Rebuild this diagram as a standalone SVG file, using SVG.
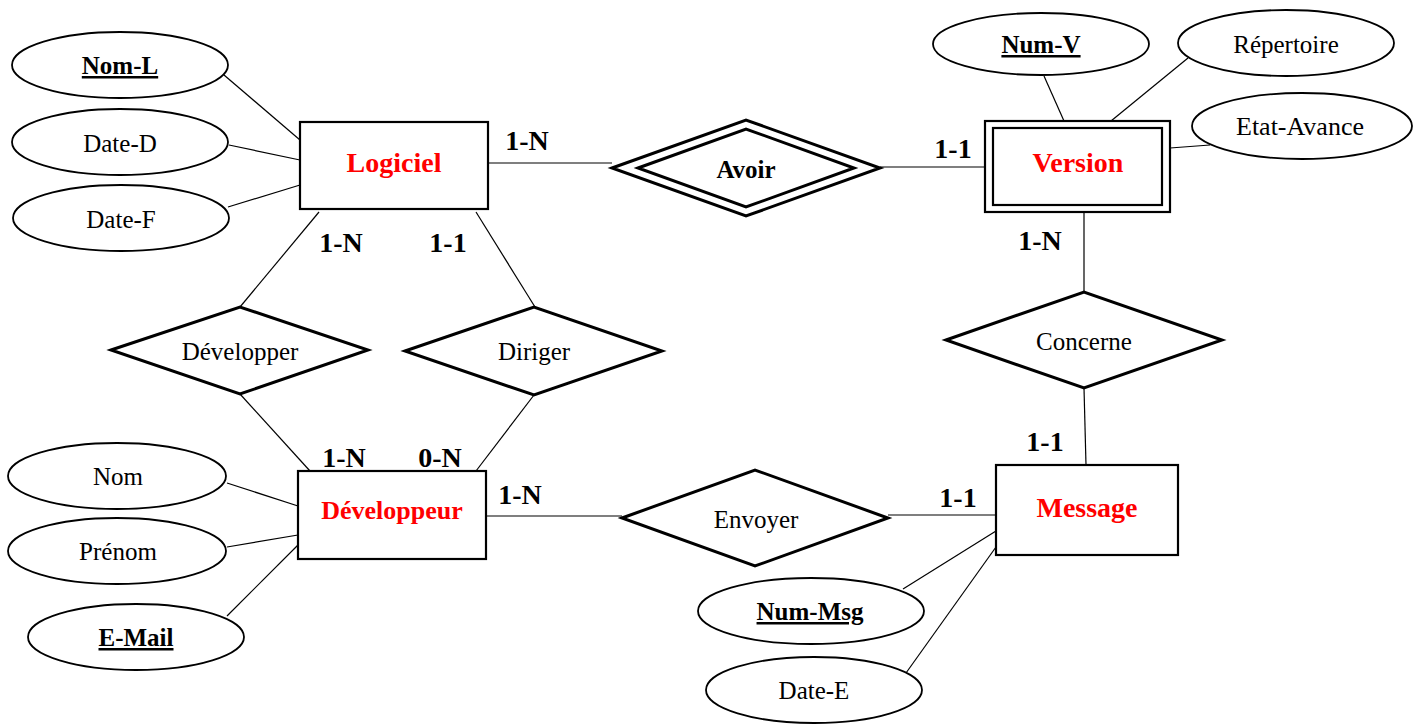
<svg xmlns="http://www.w3.org/2000/svg" width="1422" height="726" viewBox="0 0 1422 726">
<style>
text{font-family:"Liberation Serif","Times New Roman",serif;text-anchor:middle;fill:#000}
.attr{font-size:25px}
.key{font-size:25px;font-weight:bold;text-decoration:underline}
.ent{font-size:28px;font-weight:bold;fill:#ff0000}
.card{font-size:28px;font-weight:bold}
.rel{font-size:25px}
.ell{fill:#fff;stroke:#000;stroke-width:1.8}
.box{fill:#fff;stroke:#000;stroke-width:2.2}
.dia{fill:#fff;stroke:#000;stroke-width:3}
.conn line{stroke:#000;stroke-width:1.2}
</style>
<rect width="1422" height="726" fill="#fff"/>
<g class="conn">
<line x1="224" y1="75" x2="300" y2="140"/>
<line x1="229" y1="145" x2="300" y2="160"/>
<line x1="228" y1="207" x2="300" y2="185"/>
<line x1="488" y1="163" x2="612" y2="163"/>
<line x1="880" y1="167" x2="985" y2="167"/>
<line x1="1044" y1="76" x2="1064" y2="121"/>
<line x1="1188" y1="58" x2="1111" y2="121"/>
<line x1="1210" y1="145" x2="1170" y2="148"/>
<line x1="1084" y1="212" x2="1084" y2="292"/>
<line x1="1084" y1="388" x2="1086" y2="465"/>
<line x1="319" y1="212" x2="240" y2="307"/>
<line x1="476" y1="212" x2="535" y2="307"/>
<line x1="240" y1="394" x2="310" y2="471"/>
<line x1="534" y1="395" x2="476" y2="471"/>
<line x1="486" y1="516" x2="622" y2="516"/>
<line x1="888" y1="515" x2="996" y2="515"/>
<line x1="227" y1="483" x2="298" y2="506"/>
<line x1="227" y1="547" x2="298" y2="535"/>
<line x1="227" y1="616" x2="298" y2="545"/>
<line x1="903" y1="589" x2="996" y2="531"/>
<line x1="906" y1="673" x2="996" y2="547"/>
</g>
<g id="nom-l"><ellipse class="ell" cx="120" cy="65" rx="108" ry="33"/><text class="key" x="120" y="74">Nom-L</text></g>
<g id="date-d"><ellipse class="ell" cx="120" cy="142" rx="108" ry="33"/><text class="attr" x="120" y="152">Date-D</text></g>
<g id="date-f"><ellipse class="ell" cx="121" cy="218" rx="108" ry="33"/><text class="attr" x="121" y="228">Date-F</text></g>
<g id="logiciel"><rect class="box" x="300" y="122" width="188" height="87"/><text class="ent" x="394" y="172">Logiciel</text></g>
<g id="avoir"><polygon class="dia" points="612,168 746,120 880,168 746,216"/><polygon class="dia" points="638,168 746,129 854,168 746,207"/><text class="rel" x="746" y="178" style="font-weight:bold">Avoir</text></g>
<g id="version"><rect class="box" x="985" y="121" width="185" height="91"/><rect class="box" x="993" y="128" width="169" height="77"/><text class="ent" x="1078" y="172">Version</text></g>
<g id="num-v"><ellipse class="ell" cx="1041" cy="44" rx="108" ry="31"/><text class="key" x="1041" y="53">Num-V</text></g>
<g id="repertoire"><ellipse class="ell" cx="1286" cy="43" rx="108" ry="33"/><text class="attr" x="1286" y="53">Répertoire</text></g>
<g id="etat-avance"><ellipse class="ell" cx="1302" cy="126" rx="110" ry="33"/><text class="attr" x="1300" y="135" style="font-size:26px">Etat-Avance</text></g>
<g id="concerne"><polygon class="dia" points="946,340 1084,292 1222,340 1084,388"/><text class="rel" x="1084" y="350">Concerne</text></g>
<g id="message"><rect class="box" x="996" y="465" width="182" height="90"/><text class="ent" x="1087" y="517">Message</text></g>
<g id="developper"><polygon class="dia" points="111,350 240,307 368,350 240,394"/><text class="rel" x="240" y="360">Développer</text></g>
<g id="diriger"><polygon class="dia" points="405,351 534,307 662,351 534,395"/><text class="rel" x="534" y="360">Diriger</text></g>
<g id="developpeur"><rect class="box" x="298" y="471" width="188" height="88"/><text class="ent" x="392" y="519" style="font-size:26px">Développeur</text></g>
<g id="envoyer"><polygon class="dia" points="622,518 755,470 888,518 755,566"/><text class="rel" x="756" y="528">Envoyer</text></g>
<g id="nom"><ellipse class="ell" cx="117" cy="476" rx="109" ry="33"/><text class="attr" x="118" y="485">Nom</text></g>
<g id="prenom"><ellipse class="ell" cx="117" cy="551" rx="109" ry="33"/><text class="attr" x="118" y="560">Prénom</text></g>
<g id="e-mail"><ellipse class="ell" cx="136" cy="637" rx="108" ry="33"/><text class="key" x="136" y="646">E-Mail</text></g>
<g id="num-msg"><ellipse class="ell" cx="811" cy="611" rx="113" ry="33"/><text class="key" x="810" y="620">Num-Msg</text></g>
<g id="date-e"><ellipse class="ell" cx="814" cy="690" rx="108" ry="33"/><text class="attr" x="814" y="699">Date-E</text></g>
<g id="cards">
<text class="card" x="527" y="150">1-N</text>
<text class="card" x="953" y="158">1-1</text>
<text class="card" x="341" y="252">1-N</text>
<text class="card" x="448" y="252">1-1</text>
<text class="card" x="1040" y="250">1-N</text>
<text class="card" x="1045" y="451">1-1</text>
<text class="card" x="344" y="467">1-N</text>
<text class="card" x="440" y="467">0-N</text>
<text class="card" x="520" y="504">1-N</text>
<text class="card" x="958" y="507">1-1</text>
</g>
</svg>
